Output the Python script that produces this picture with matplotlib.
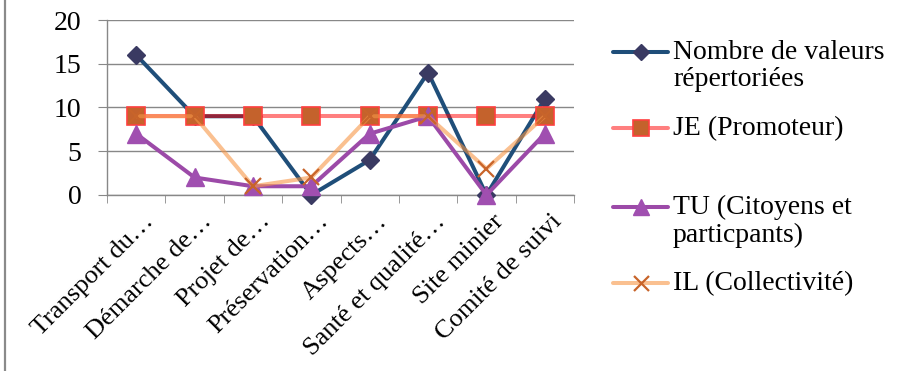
import matplotlib
matplotlib.use("Agg")
import matplotlib.pyplot as plt
from matplotlib.lines import Line2D
from matplotlib.transforms import ScaledTranslation
import numpy as np

categories = ['Transport du…', 'Démarche de…', 'Projet de…', 'Préservation…',
              'Aspects…', 'Santé et qualité…', 'Site minier', 'Comité de suivi']
nombre = [16, 9, 9, 0, 4, 14, 0, 11]
je = [9, 9, 9, 9, 9, 9, 9, 9]
tu = [7, 2, 1, 1, 7, 9, 0, 7]
il = [9, 9, 1, 2, 9, 9, 3, 9]
series_labels = ['Nombre de valeurs\nrépertoriées', 'JE (Promoteur)',
                 'TU (Citoyens et\nparticpants)', 'IL (Collectivité)']
yticks = [0, 5, 10, 15, 20]

FONT = 'Liberation Serif'
FS = 20
FSX = 19
plt.rcParams['font.family'] = [FONT, 'DejaVu Serif']

W, H = 901, 371
fig = plt.figure(figsize=(W / 100, H / 100), dpi=100)
ax = fig.add_axes([107 / W, 1 - 195 / H, (574 - 107) / W, 175 / H])

x = np.arange(len(categories))
line_styles = [
    dict(color='#1F4E79', alpha=1.0),
    dict(color='#FF0000', alpha=0.5),
    dict(color='#9C4AA8', alpha=1.0),
    dict(color='#F79646', alpha=0.6),
]
marker_styles = [
    dict(marker='D', ms=9.5, mfc='#3A3A62', mec='#3A3A62', mew=1),
    dict(marker='s', ms=13, mfc='#C4622C', mec='#FF4040', mew=1.2),
    dict(marker='^', ms=13.5, mfc='#A04FB0', mec='#A04FB0', mew=1),
    dict(marker='x', ms=12, mfc='#C8642A', mec='#C8642A', mew=1.6),
]
LW = 2.9
data = [nombre, je, tu, il]
z = 3
for vals, ls, ms in zip(data, line_styles, marker_styles):
    ax.plot(x, vals, lw=LW, clip_on=False, zorder=z, solid_capstyle='butt', **ls)
    ax.plot(x, vals, linestyle='none', clip_on=False, zorder=z + 0.5, **ms)
    z += 1

ax.set_xlim(-0.5, len(categories) - 0.5)
ax.set_ylim(0, 20)
ax.set_yticks(yticks)
ax.yaxis.grid(True, color='#888888', lw=1)
ax.set_axisbelow(True)
for s in ['top', 'right']:
    ax.spines[s].set_visible(False)
for s in ['left', 'bottom']:
    ax.spines[s].set_color('#888888')
    ax.spines[s].set_linewidth(1)
ax.tick_params(axis='y', length=6.5, color='#888888', pad=12, labelsize=FS)
ax.set_xticks(x)
ax.set_xticks(np.arange(-0.5, len(categories)), minor=True)
ax.tick_params(axis='x', which='major', length=0, pad=11)
ax.tick_params(axis='x', which='minor', length=6, color='#888888')
ax.set_xticklabels(categories, rotation=45, ha='right', va='top',
                   rotation_mode='anchor', fontsize=FSX)
off = ScaledTranslation(6 / 100, 0, fig.dpi_scale_trans)
for lab in ax.get_xticklabels():
    lab.set_transform(lab.get_transform() + off)

# legend (manual layout)
ys = [52, 128, 207, 283]
for lbl, ls, ms, yy in zip(series_labels, line_styles, marker_styles, ys):
    yf = 1 - yy / H
    fig.add_artist(Line2D([613 / W, 668 / W], [yf, yf], transform=fig.transFigure,
                          lw=LW, solid_capstyle='round', **ls))
    ms2 = dict(ms)
    ms2['ms'] = ms['ms'] * 0.9
    fig.add_artist(Line2D([640.5 / W], [yf], transform=fig.transFigure,
                          linestyle='none', **ms2))
    fig.text(673 / W, 1 - (yy - 12) / H, lbl, ha='left', va='top',
             fontsize=FS, linespacing=1.12)

# left frame border
fig.add_artist(Line2D([5 / W, 5 / W], [0, 1], transform=fig.transFigure,
                      color='#8A8A8A', lw=1.6))

fig.savefig('out.png', dpi=100)
